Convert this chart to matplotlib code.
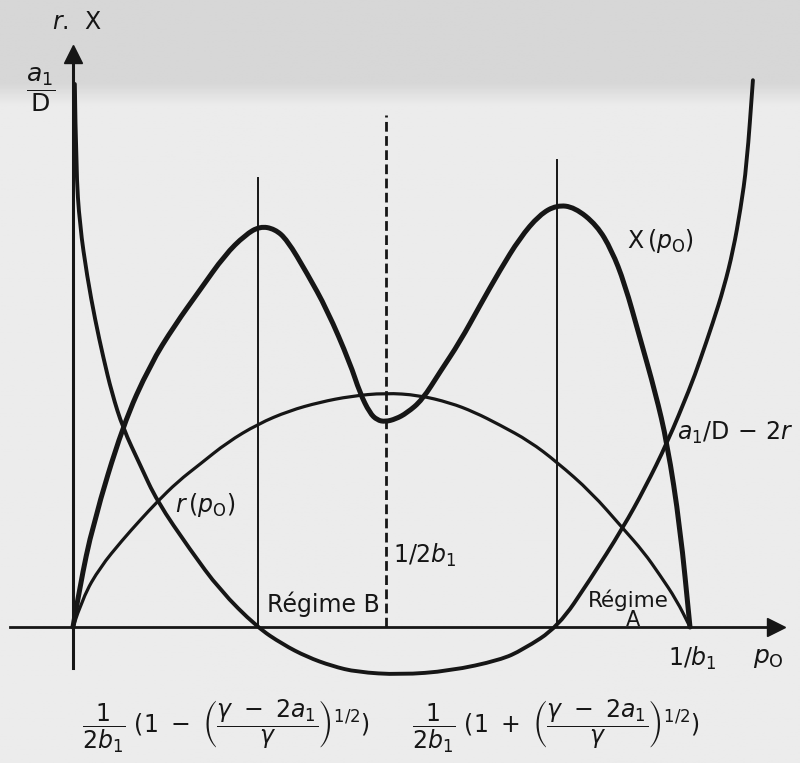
import numpy as np
import matplotlib
matplotlib.use("Agg")
import matplotlib.pyplot as plt
from matplotlib.path import Path
from matplotlib.patches import PathPatch

plt.rcParams['font.family'] = ['DejaVu Sans']
plt.rcParams['mathtext.fontset'] = 'dejavusans'

# p0 in units of 1/b1, ordinates in units of a1/D
r_p = [0.0, 0.016, 0.044, 0.080, 0.109, 0.136, 0.170, 0.206, 0.250, 0.300, 0.350,
       0.400, 0.450, 0.506, 0.560, 0.611, 0.650, 0.692, 0.740, 0.784, 0.840,
       0.891, 0.925, 0.951, 0.978, 1.0]
r_val = [0.0, 0.055, 0.110, 0.160, 0.197, 0.230, 0.268, 0.300, 0.340, 0.374, 0.398,
         0.414, 0.425, 0.431, 0.427, 0.413, 0.396, 0.372, 0.342, 0.304, 0.248,
         0.182, 0.138, 0.096, 0.050, 0.0]

g_p = [0.003, 0.005, 0.011, 0.023, 0.036, 0.049, 0.063, 0.081, 0.109, 0.136,
       0.190, 0.238, 0.298, 0.340, 0.379, 0.420, 0.460, 0.530, 0.611, 0.692,
       0.729, 0.786, 0.838, 0.891, 0.927, 0.963, 1.0, 1.016, 1.037, 1.055,
       1.070, 1.082, 1.092, 1.102]
g_val = [1.0, 0.842, 0.740, 0.645, 0.565, 0.497, 0.431, 0.366, 0.298, 0.232,
         0.142, 0.068, 0.0, -0.032, -0.055, -0.072, -0.083, -0.088, -0.081, -0.061,
         -0.042, 0.0, 0.087, 0.182, 0.256, 0.339, 0.440, 0.490, 0.560, 0.625,
         0.694, 0.770, 0.851, 1.007]

x_p = [0.0, 0.011, 0.032, 0.081, 0.125, 0.165, 0.206, 0.246, 0.279, 0.303,
       0.327, 0.347, 0.379, 0.412, 0.449, 0.465, 0.481, 0.493, 0.506, 0.523,
       0.541, 0.566, 0.595, 0.627, 0.660, 0.692, 0.724, 0.756, 0.784, 0.813,
       0.849, 0.873, 0.894, 0.919, 0.944, 0.963, 0.984, 1.0]
x_val = [0.0, 0.074, 0.188, 0.372, 0.483, 0.556, 0.621, 0.685, 0.722, 0.738,
         0.733, 0.713, 0.652, 0.584, 0.486, 0.431, 0.394, 0.381, 0.378, 0.383,
         0.394, 0.418, 0.470, 0.525, 0.593, 0.657, 0.716, 0.759, 0.777, 0.773,
         0.740, 0.694, 0.633, 0.532, 0.431, 0.339, 0.184, 0.0]

# regime boundaries and the midpoint 1/2b1, with the heights the lines reach
bound_p = [0.300, 0.785]
bound_top = [0.827, 0.860]
mid_p = 0.507
mid_top = 0.943


def smooth_line(ax, xs, ys, **kw):
    # quadratic bezier through segment midpoints, using the points as controls
    pts = np.column_stack([xs, ys])
    verts = [pts[0]]
    codes = [Path.MOVETO]
    for i in range(1, len(pts) - 1):
        verts += [pts[i], (pts[i] + pts[i + 1]) / 2]
        codes += [Path.CURVE3, Path.CURVE3]
    verts.append(pts[-1])
    codes.append(Path.LINETO)
    ax.add_patch(PathPatch(Path(verts, codes), fill=False, **kw))


fig = plt.figure(figsize=(8, 7.63), dpi=100)
ax = fig.add_axes([0, 0, 1, 1])
ax.set_xlim(-0.1183, 1.1783)
ax.set_ylim(-0.2505, 1.1547)
ax.axis('off')

# paper tone, darker band along the top edge
rows = np.linspace(1, 0, 300)
shade = np.where(rows > 0.878, 0.84, 0.925)
shade = np.convolve(shade, np.ones(9) / 9, mode='same')
shade[:5] = 0.84
shade[-5:] = 0.925
bg = np.repeat(shade[:, None], 2, axis=1)
ax.imshow(bg, cmap='gray', vmin=0, vmax=1, aspect='auto',
          extent=[-0.1183, 1.1783, -0.2505, 1.1547], zorder=0)

ink = '#161616'

# axes with arrow heads
ax.plot([-0.102, 1.145], [0, 0], color=ink, lw=2.0, zorder=2)
ax.plot([0, 0], [-0.0755, 1.05], color=ink, lw=2.2, zorder=2)
ax.plot([1.140], [0], marker='>', ms=13, color=ink, mec=ink, zorder=3)
ax.plot([0], [1.055], marker='^', ms=13, color=ink, mec=ink, zorder=3)

for p, top in zip(bound_p, bound_top):
    ax.plot([p, p], [0, top], color=ink, lw=1.4, zorder=2)
ax.plot([mid_p, mid_p], [0, mid_top], color=ink, lw=2.0,
        dashes=(3.5, 1.6), zorder=2)

smooth_line(ax, r_p, r_val, edgecolor=ink, lw=2.3, capstyle='round', zorder=3)
smooth_line(ax, g_p, g_val, edgecolor=ink, lw=2.8, capstyle='round', zorder=3)
smooth_line(ax, x_p, x_val, edgecolor=ink, lw=3.6, capstyle='round',
            joinstyle='round', zorder=4)

fs = 16
ax.text(-0.034, 1.114, r'$r$.  X', fontsize=17, color=ink, va='center', ha='left')
ax.text(-0.052, 0.989, r'$\dfrac{a_1}{\mathrm{D}}$', fontsize=18, color=ink,
        va='center', ha='center')
ax.text(0.898, 0.711, r'X$\,(p_\mathrm{O})$', fontsize=fs + 1, color=ink, va='center')
ax.text(0.165, 0.225, r'$r\,(p_\mathrm{O})$', fontsize=fs + 1, color=ink, va='center')
ax.text(0.979, 0.357, r'$a_1$/D$\,-\,2r$', fontsize=fs + 1, color=ink, va='center')
ax.text(0.519, 0.131, r'1/2$b_1$', fontsize=fs + 1, color=ink, va='center')
ax.text(0.314, 0.041, 'Régime B', fontsize=fs + 1, color=ink, va='center')
ax.text(0.835, 0.050, 'Régime', fontsize=fs - 0.5, color=ink, va='center')
ax.text(0.908, 0.012, 'A', fontsize=fs - 1, color=ink, va='center', ha='center')
ax.text(0.964, -0.057, r'1/$b_1$', fontsize=fs + 1, color=ink, va='center')
ax.text(1.102, -0.057, r'$p_\mathrm{O}$', fontsize=fs + 2, color=ink, va='center')

ax.text(0.0146, -0.182,
        r'$\dfrac{1}{2b_1}\ (1\ -\ \left(\dfrac{\gamma\ -\ 2a_1}{\gamma}\right)^{1/2})$',
        fontsize=17, color=ink, va='center', ha='left')
ax.text(0.549, -0.182,
        r'$\dfrac{1}{2b_1}\ (1\ +\ \left(\dfrac{\gamma\ -\ 2a_1}{\gamma}\right)^{1/2})$',
        fontsize=17, color=ink, va='center', ha='left')

fig.savefig('out.png', dpi=100)
